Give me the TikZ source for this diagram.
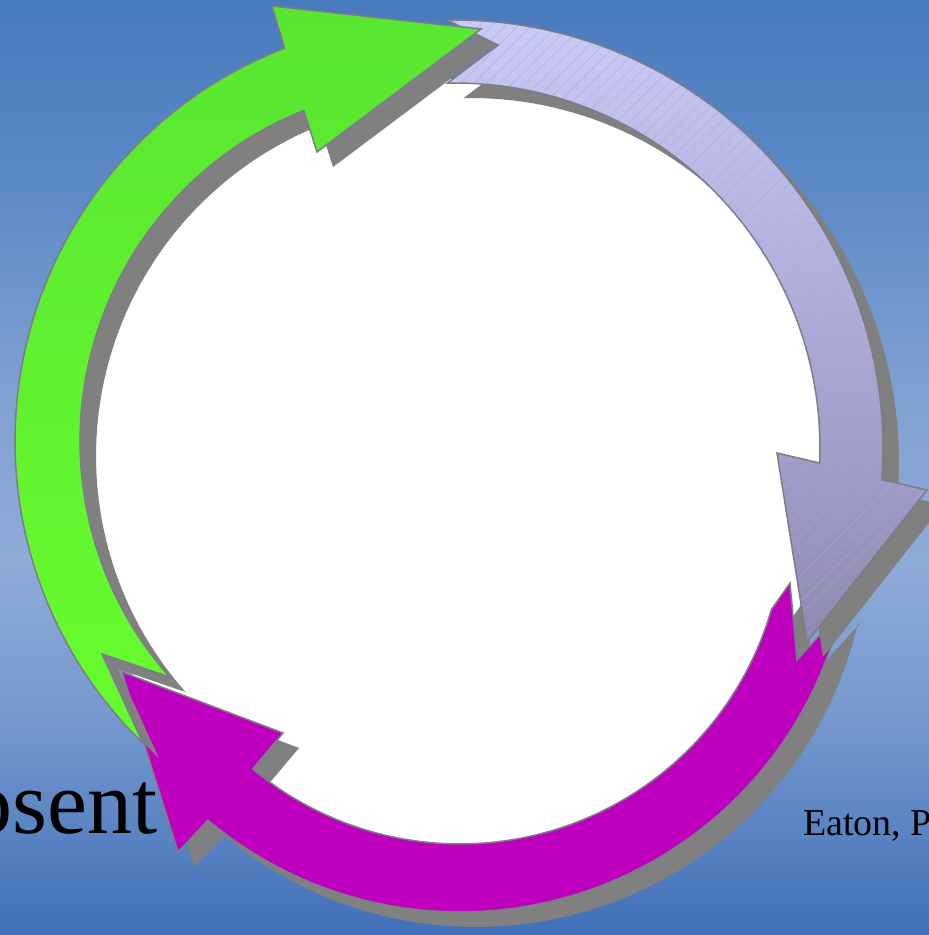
\documentclass[tikz,border=0pt]{standalone}
\usepackage{fontspec}
\setmainfont{Liberation Serif}
\definecolor{bgA}{RGB}{64,112,184}
\definecolor{bgB}{RGB}{115,150,205}
\definecolor{bgC}{RGB}{142,172,216}
\definecolor{bgD}{RGB}{128,160,210}
\definecolor{bgE}{RGB}{95,140,200}
\definecolor{bgF}{RGB}{72,122,190}
\definecolor{shadowgray}{RGB}{128,128,128}
\definecolor{outlinegray}{RGB}{125,125,135}
\definecolor{greenTop}{RGB}{88,230,48}
\definecolor{greenBot}{RGB}{104,252,46}
\definecolor{lavTop}{RGB}{202,202,248}
\definecolor{lavBot}{RGB}{142,138,178}
\definecolor{hatchcol}{RGB}{172,168,212}
\definecolor{magentaarrow}{RGB}{190,0,190}
\pgfdeclareverticalshading{bgshade}{100bp}{color(0bp)=(bgA); color(25bp)=(bgA); color(36bp)=(bgB); color(45bp)=(bgC); color(54bp)=(bgD); color(64bp)=(bgE); color(75bp)=(bgF); color(100bp)=(bgF)}
\tikzset{
  arrowline/.style={draw=outlinegray, line width=1.5pt, line join=miter},
  shadowfill/.style={fill=shadowgray},
  hatchline/.style={draw=hatchcol, line width=0.6pt, opacity=0.7},
  bigtext/.style={anchor=base west, inner sep=0pt, font=\fontsize{90}{90}\selectfont},
  smalltext/.style={anchor=base west, inner sep=0pt, font=\fontsize{38}{38}\selectfont}
}
\def\greenpath{(143.0,743.3) -- plot[domain=0:1,samples=60] ({436+421*cos(134.1+114.9*\x)},{441+421*sin(134.1+114.9*\x)}) -- (272,6) -- (481,29) -- (317,152) -- plot[domain=0:1,samples=60] ({436+356*cos(248.2-109.8*\x)},{441+356*sin(248.2-109.8*\x)}) -- (102,654) -- cycle}
\def\lavpath{(447.5,20.1) -- plot[domain=0:1,samples=60] ({455+428*cos(-91+95.3*\x)},{448+428*sin(-91+95.3*\x)}) -- (927,490) -- (807,642) -- (777,453) -- plot[domain=0:1,samples=60] ({455+365*cos(2.35-93.6*\x)},{448+365*sin(2.35-93.6*\x)}) -- (498,45) -- cycle}
\def\magpath{(843.9,608.6) -- plot[domain=0:1,samples=60] ({460+392*cos(13+117.1*\x)},{520+392*sin(13+117.1*\x)}) -- (178,852) -- (122,672) -- (283,733) -- plot[domain=0:1,samples=60] ({460+324*cos(129.8-113.8*\x)},{520+324*sin(129.8-113.8*\x)}) -- (790,583) -- (797,660) -- cycle}
\begin{document}
\begin{tikzpicture}[x=1pt,y=-1pt]
\useasboundingbox (0,0) rectangle (929,935);
% background
\fill[shading=bgshade] (0,0) rectangle (929,935);
% white disc
\fill[white] (455,464) circle[radius=385];
% magenta arrow
\fill[shadowfill, shift={(16,15)}] \magpath;
\path[arrowline, fill=magentaarrow] \magpath;
% lavender arrow
\fill[shadowfill, shift={(16,15)}] \lavpath;
\path[top color=lavTop, bottom color=lavBot] \lavpath;
\begin{scope}
  \clip \lavpath;
  \foreach \c in {440,453,...,1420} \draw[hatchline] (\c,0) -- (\c-700,700);
\end{scope}
\draw[arrowline] \lavpath;
% green arrow
\fill[shadowfill, shift={(16,15)}] \greenpath;
\path[arrowline, top color=greenTop, bottom color=greenBot] \greenpath;
% texts
\node[bigtext] (absent) at (-33,833) {osent};
\node[smalltext] (eaton) at (803,835) {Eaton, P};
\end{tikzpicture}
\end{document}
